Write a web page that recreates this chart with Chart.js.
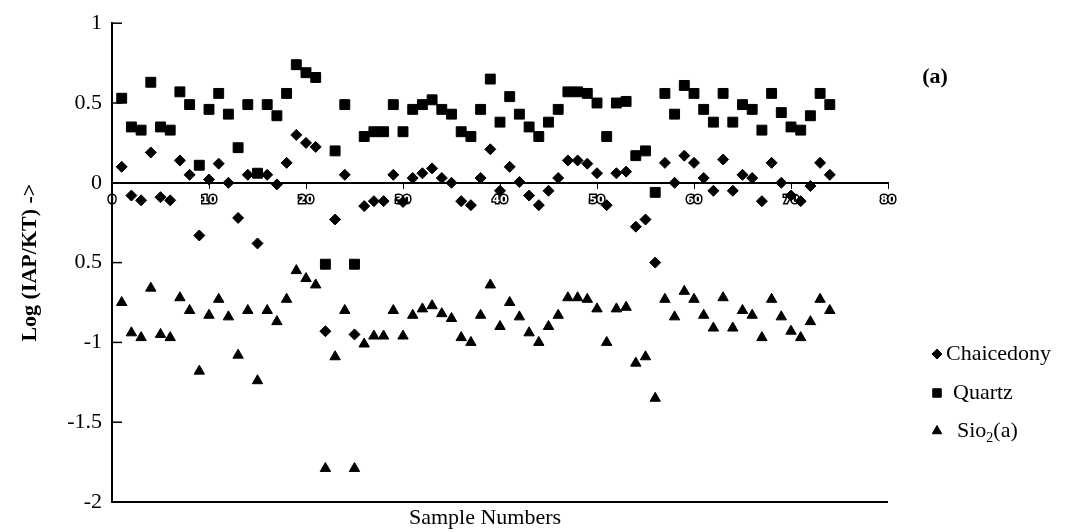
<!DOCTYPE html>
<html>
<head>
<meta charset="utf-8">
<script src="https://cdn.jsdelivr.net/npm/chart.js@4.4.1/dist/chart.umd.min.js"></script>
<style>
  html, body { margin: 0; padding: 0; background: #fff; }
</style>
</head>
<body>
<canvas id="chart" width="1069" height="532"></canvas>
<script>
const SAMPLES = [
  1, 2, 3, 4, 5, 6, 7, 8, 9, 10, 11, 12, 13, 14, 15, 16, 17, 18, 19, 20,
  21, 22, 23, 24, 25, 26, 27, 28, 29, 30, 31, 32, 33, 34, 35, 36, 37, 38, 39, 40,
  41, 42, 43, 44, 45, 46, 47, 48, 49, 50, 51, 52, 53, 54, 55, 56, 57, 58, 59, 60,
  61, 62, 63, 64, 65, 66, 67, 68, 69, 70, 71, 72, 73, 74
];
const CHALCEDONY = [
  0.10, -0.08, -0.11, 0.19, -0.09, -0.11, 0.14, 0.05, -0.33, 0.02,
  0.12, 0.0, -0.22, 0.05, -0.38, 0.05, -0.01, 0.125, 0.30, 0.25,
  0.225, -0.93, -0.23, 0.05, -0.95, -0.146, -0.115, -0.115, 0.05, -0.12,
  0.03, 0.06, 0.09, 0.03, 0.0, -0.115, -0.14, 0.03, 0.21, -0.05,
  0.10, 0.005, -0.08, -0.14, -0.05, 0.03, 0.14, 0.14, 0.12, 0.06,
  -0.14, 0.06, 0.07, -0.275, -0.23, -0.50, 0.125, 0.0, 0.17, 0.125,
  0.03, -0.05, 0.146, -0.05, 0.05, 0.03, -0.115, 0.125, 0.0, -0.08,
  -0.115, -0.02, 0.125, 0.05
];
const QUARTZ = [
  0.53, 0.35, 0.33, 0.63, 0.35, 0.33, 0.57, 0.49, 0.11, 0.46,
  0.56, 0.43, 0.22, 0.49, 0.06, 0.49, 0.42, 0.56, 0.74, 0.69,
  0.66, -0.51, 0.20, 0.49, -0.51, 0.29, 0.32, 0.32, 0.49, 0.32,
  0.46, 0.49, 0.52, 0.46, 0.43, 0.32, 0.29, 0.46, 0.65, 0.38,
  0.54, 0.43, 0.35, 0.29, 0.38, 0.46, 0.57, 0.57, 0.56, 0.50,
  0.29, 0.50, 0.51, 0.17, 0.20, -0.06, 0.56, 0.43, 0.61, 0.56,
  0.46, 0.38, 0.56, 0.38, 0.49, 0.46, 0.33, 0.56, 0.44, 0.35,
  0.33, 0.42, 0.56, 0.49
];
const SIO2 = [
  -0.75, -0.94, -0.97, -0.66, -0.95, -0.97, -0.72, -0.80, -1.18, -0.83,
  -0.73, -0.84, -1.08, -0.80, -1.24, -0.80, -0.87, -0.73, -0.55, -0.60,
  -0.64, -1.79, -1.09, -0.80, -1.79, -1.01, -0.96, -0.96, -0.80, -0.96,
  -0.83, -0.79, -0.77, -0.82, -0.85, -0.97, -1.0, -0.83, -0.64, -0.90,
  -0.75, -0.84, -0.94, -1.0, -0.90, -0.83, -0.72, -0.72, -0.73, -0.79,
  -1.0, -0.79, -0.78, -1.13, -1.09, -1.35, -0.73, -0.84, -0.68, -0.73,
  -0.83, -0.91, -0.72, -0.91, -0.80, -0.83, -0.97, -0.73, -0.84, -0.93,
  -0.97, -0.87, -0.73, -0.80
];
const Y_TICKS = [1, 0.5, 0, -0.5, -1, -1.5, -2];
const Y_LABELS = ["1", "0.5", "0", "0.5", "-1", "-1.5", "-2"];
const SERIES_NAMES = ["Chaicedony", "Quartz", "Sio2(a)"];

const SERIF = "'Liberation Serif', 'Times New Roman', serif";

function toPoints(values) {
  return SAMPLES.map((s, i) => ({ x: s, y: values[i] }));
}

// left axis: inward ticks, plus the bottom frame line
const framePlugin = {
  id: "frame",
  afterDraw(chart) {
    const ctx = chart.ctx;
    const area = chart.chartArea;
    const yScale = chart.scales.y;
    ctx.save();
    ctx.strokeStyle = "#000";
    ctx.lineWidth = 2;
    ctx.beginPath();
    ctx.moveTo(area.left, area.bottom);
    ctx.lineTo(area.right, area.bottom);
    ctx.stroke();
    ctx.lineWidth = 1.5;
    Y_TICKS.forEach((v) => {
      const py = yScale.getPixelForValue(v);
      ctx.beginPath();
      ctx.moveTo(area.left, py);
      ctx.lineTo(area.left + 10, py);
      ctx.stroke();
    });

    ctx.fillStyle = "#000";
    ctx.textBaseline = "middle";
    ctx.textAlign = "center";
    ctx.font = "22px " + SERIF;
    ctx.fillText("Sample Numbers", 485, 518);

    ctx.font = "bold 22px " + SERIF;
    ctx.fillText("(a)", 935, 77);
    ctx.restore();
  },
};

const legendPlugin = {
  id: "sideLegend",
  afterDraw(chart) {
    const ctx = chart.ctx;
    const rows = [354, 393, 431];
    ctx.save();
    chart.data.datasets.forEach((ds, i) => {
      const y = rows[i];
      ctx.fillStyle = "#000";
      ctx.strokeStyle = "#000";
      Chart.helpers.drawPoint(
        ctx,
        {
          pointStyle: ds.pointStyle,
          radius: ds.legendRadius,
          borderWidth: 1,
          rotation: 0,
        },
        937,
        y
      );
      ctx.font = "22px " + SERIF;
      ctx.textAlign = "left";
      ctx.textBaseline = "middle";
      if (i === 2) {
        // subscript 2 in Sio2(a)
        let x = 957;
        ctx.fillText("Sio", x, y);
        x += ctx.measureText("Sio").width;
        ctx.font = "14px " + SERIF;
        ctx.fillText("2", x, y + 7);
        x += ctx.measureText("2").width;
        ctx.font = "22px " + SERIF;
        ctx.fillText("(a)", x, y);
      } else {
        ctx.fillText(ds.label, i === 0 ? 946 : 953, y);
      }
    });
    ctx.restore();
  },
};

new Chart(document.getElementById("chart"), {
  type: "scatter",
  data: {
    datasets: [
      {
        label: SERIES_NAMES[0],
        data: toPoints(CHALCEDONY),
        pointStyle: "rectRot",
        pointRadius: 5.5,
        legendRadius: 5,
        backgroundColor: "#000",
        borderColor: "#000",
        borderWidth: 1,
      },
      {
        label: SERIES_NAMES[1],
        data: toPoints(QUARTZ),
        pointStyle: "rect",
        pointRadius: 7,
        legendRadius: 6,
        backgroundColor: "#000",
        borderColor: "#000",
        borderWidth: 1,
      },
      {
        label: SERIES_NAMES[2],
        data: toPoints(SIO2),
        pointStyle: "triangle",
        pointRadius: 6,
        legendRadius: 5.5,
        backgroundColor: "#000",
        borderColor: "#000",
        borderWidth: 1,
      },
    ],
  },
  options: {
    responsive: false,
    animation: false,
    layout: {
      padding: { left: 0, right: 181, top: 20, bottom: 30 },
    },
    scales: {
      x: {
        type: "linear",
        min: 0,
        max: 80,
        position: { y: 0 },
        grid: {
          drawOnChartArea: false,
          drawTicks: true,
          tickLength: 5,
          color: "#000",
        },
        border: { color: "#000", width: 2 },
        ticks: {
          stepSize: 10,
          autoSkip: false,
          maxRotation: 0,
          padding: 6,
          color: "#fff",
          textStrokeColor: "#000",
          textStrokeWidth: 3,
          font: { family: "'DejaVu Sans'", size: 11, weight: "bold" },
        },
      },
      y: {
        min: -2,
        max: 1,
        afterFit(scale) {
          scale.width = 112;
        },
        grid: { drawOnChartArea: false, drawTicks: false },
        border: { color: "#000", width: 2 },
        ticks: {
          stepSize: 0.5,
          padding: 10,
          color: "#000",
          font: { family: SERIF, size: 22 },
          callback: (value) => {
            const idx = Y_TICKS.indexOf(value);
            return idx >= 0 ? Y_LABELS[idx] : "";
          },
        },
        title: {
          display: true,
          text: "Log (IAP/KT) ->",
          color: "#000",
          padding: { top: 17, bottom: 0 },
          font: { family: SERIF, size: 22, weight: "bold" },
        },
      },
    },
    plugins: {
      legend: { display: false },
      tooltip: { enabled: false },
    },
  },
  plugins: [framePlugin, legendPlugin],
});
</script>
</body>
</html>
